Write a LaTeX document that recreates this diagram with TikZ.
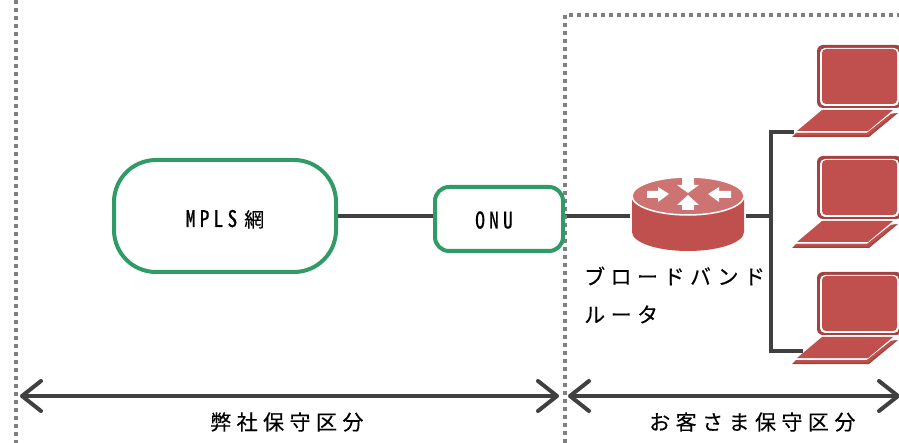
\documentclass[tikz,border=0pt]{standalone}
\usepackage{fontspec}
\usetikzlibrary{arrows.meta,backgrounds}
\setmainfont{Noto Sans CJK JP}
\newfontfamily\jpwide[LetterSpace=26,FakeBold=0.3]{Noto Sans CJK JP}
\newfontfamily\jpplain[FakeBold=0.2]{Noto Sans CJK JP}
\newfontfamily\latnarrow[RawFeature=+hwid,FakeStretch=0.85,LetterSpace=18,FakeBold=0.4]{Noto Sans CJK JP}
\definecolor{linegray}{HTML}{404040}
\definecolor{dotgray}{HTML}{7F7F7F}
\definecolor{boxgreen}{HTML}{319B68}
\definecolor{devred}{HTML}{C0504D}
\definecolor{devdark}{HTML}{A34240}
\definecolor{devlight}{HTML}{CD7371}
\newcommand{\lowered}[2]{\raisebox{-#1pt}[10pt][3pt]{#2}}
\newcommand{\latin}[1]{{\latnarrow\fontsize{23}{24}\selectfont #1}}
\tikzset{
  x=1pt,y=-1pt,
  conn/.style={draw=linegray,line width=3.5pt},
  spanline/.style={draw=linegray,line width=4pt,{Straight Barb[length=19pt,width=30pt,line width=4pt,round]}-{Straight Barb[length=19pt,width=30pt,line width=4pt,round]}},
  zoneline/.style={draw=dotgray,line width=4pt,dash pattern=on 4pt off 4pt},
  netbox/.style={draw=boxgreen,line width=4pt,font=\jpplain\fontsize{20}{24}\selectfont,inner sep=0pt},
  captext/.style={font=\jpwide\fontsize{21}{38}\selectfont,inner sep=0pt,anchor=west,align=left,text=black},
  devbox/.style={inner sep=0pt,outer sep=0pt},
  laptop/.pic={
    \coordinate (-port) at (-23,87);
    \coordinate (-portb) at (-14,79);
    \fill[devdark,rounded corners=6pt] (0,0) rectangle (85,63);
    \fill[white,rounded corners=5pt] (3,3) rectangle (82,61);
    \fill[devred,rounded corners=4pt] (5,4) rectangle (80,59);
    \fill[devred] (5,65) -- (76,65) -- (51,86) -- (-20,86) -- cycle;
    \fill[devdark] (-25,92) -- (52,92) -- (81,68) -- (74,69) -- (50,88) -- (-21,88) -- cycle;
    \fill[devred] (-22,90.5) -- (51,90.5) -- (79,68) -- (74,69) -- (50,88) -- (-21,88) -- cycle;
  },
  routershape/.pic={
    \fill[devred] (-56,-20) -- (-56,16) arc[start angle=180,end angle=0,x radius=56,y radius=19] -- (56,-20) -- cycle;
    \fill[devlight,draw=white,line width=1.5pt] (0,-20) ellipse[x radius=56,y radius=19];
    \fill[white] (-41,-25) -- (-30,-25) -- (-30,-29) -- (-19,-22) -- (-30,-14) -- (-30,-18) -- (-41,-18) -- cycle;
    \fill[white] (43,-25) -- (31,-25) -- (31,-29) -- (20,-22) -- (31,-14) -- (31,-18) -- (43,-18) -- cycle;
    \fill[white] (-6,-38) -- (6,-38) -- (6,-31) -- (11,-31) -- (0,-23) -- (-11,-31) -- (-6,-31) -- cycle;
    \fill[white] (-6,-6) -- (6,-6) -- (6,-11) -- (11,-11) -- (0,-21) -- (-11,-11) -- (-6,-11) -- cycle;
  },
}
\begin{document}
\begin{tikzpicture}
\useasboundingbox (0,0) rectangle (899,443);
% zones
\coordinate (zoneA) at (16,0);
\coordinate (zoneAend) at (16,443);
\coordinate (zoneB) at (565,443);
\coordinate (zoneBcorner) at (565,15);
\coordinate (zoneBend) at (899,15);
\draw[zoneline] (zoneA) -- (zoneAend);
\draw[zoneline] (zoneB) -- (zoneBcorner) -- (zoneBend);
% nodes
\node[netbox,rounded corners=42pt,minimum width=222pt,minimum height=112pt] (mpls) at (225,216) {\lowered{7.5}{\latin{MPLS}\hspace{7pt}網}};
\node[netbox,rounded corners=14pt,minimum width=128pt,minimum height=64pt] (onu) at (499,219) {\lowered{6}{\latin{ONU}\hspace{10pt}}};
\node[devbox,minimum width=116pt,minimum height=76pt] (router) at (688,216) {};
\pic at (router.center) {routershape};
\pic (lapA) at (817,45) {laptop};
\pic (lapB) at (817,156) {laptop};
\pic (lapC) at (817,272) {laptop};
\coordinate (trunk) at (771,216);
\begin{scope}[on background layer]
\draw[conn] (mpls.east) -- (onu.west |- mpls.east);
\draw[conn] (onu.east |- router.west) -- (router.west);
\draw[conn] (router.east) -- (trunk);
\draw[conn] (lapA-port) -| (trunk) |- (lapC-portb);
\end{scope}
% labels
\node[captext] (rlabel) at (584,295) {ブロードバンド\\ルータ};
\coordinate (spanAl) at (20,396);
\coordinate (spanAr) at (559,396);
\coordinate (spanBl) at (568,396);
\coordinate (spanBr) at (900,396);
\draw[spanline] (spanAl) -- (spanAr);
\draw[spanline] (spanBl) -- (spanBr);
\node[captext] (capA) at (210,422) {弊社保守区分};
\node[captext] (capB) at (649,422) {お客さま保守区分};
\end{tikzpicture}
\end{document}
